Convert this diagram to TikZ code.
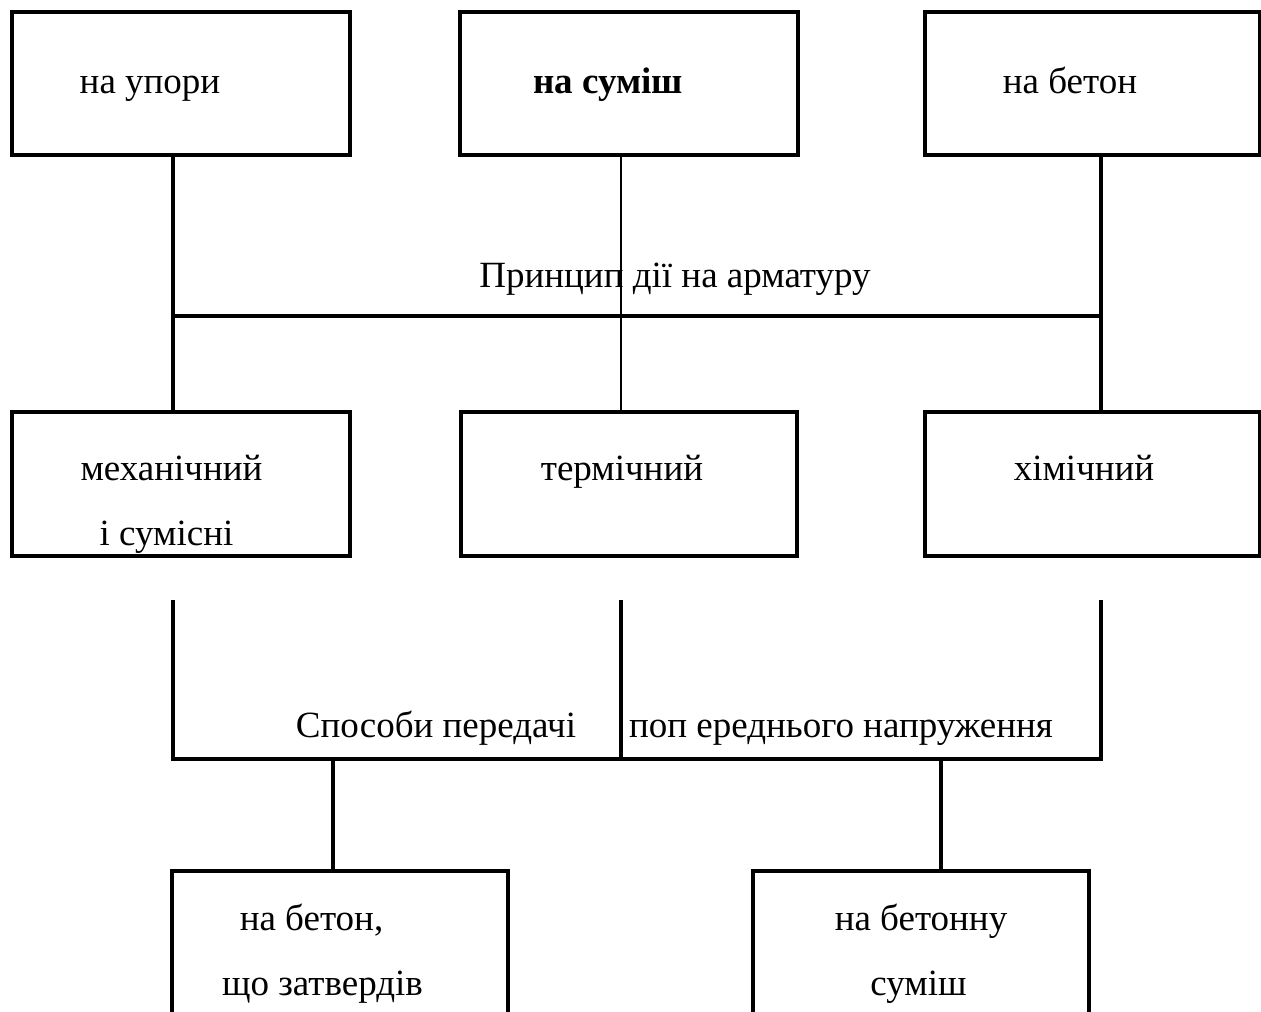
\documentclass[tikz,border=0pt]{standalone}
\usepackage{fontspec}
\setmainfont{Liberation Serif}
\begin{document}
\begin{tikzpicture}[x=1pt,y=-1pt,
  box/.style={draw,line width=3.5pt,rectangle,inner sep=0pt,outer sep=0pt},
  lbl/.style={anchor=base,inner sep=0pt,font=\fontsize{37}{44}\selectfont},
  thickline/.style={line width=3.5pt},
  thinline/.style={line width=1.8pt}]
\useasboundingbox (0,0) rectangle (1261,1012);
\clip (0,0) rectangle (1261,1012);
% boxes
\node[box,minimum width=338pt,minimum height=143pt] (t1) at (181,83.5) {};
\node[box,minimum width=338pt,minimum height=143pt] (t2) at (629,83.5) {};
\node[box,minimum width=335pt,minimum height=143pt] (t3) at (1092.5,83.5) {};
\node[box,minimum width=338pt,minimum height=144pt] (m1) at (181,484) {};
\node[box,minimum width=336pt,minimum height=144pt] (m2) at (629,484) {};
\node[box,minimum width=335pt,minimum height=144pt] (m3) at (1092.5,484) {};
\node[box,minimum width=336pt,minimum height=169pt] (d1) at (340,955.5) {};
\node[box,minimum width=336pt,minimum height=169pt] (d2) at (921,955.5) {};
% texts
\node[lbl] (x1) at (150,93) {на упори};
\node[lbl,font=\fontsize{37}{44}\selectfont\bfseries] (x2) at (608,93) {на суміш};
\node[lbl] (x3) at (1070,93) {на бетон};
\node[lbl] (x4) at (675,287) {Принцип дії на арматуру};
\node[lbl] (x5) at (171.5,480) {механічний};
\node[lbl] (x6) at (166.5,545) {і сумісні};
\node[lbl] (x7) at (622,480) {термічний};
\node[lbl] (x8) at (1084,480) {хімічний};
\node[lbl] (x9) at (436,737) {Способи передачі};
\node[lbl] (x10) at (841,737) {поп ереднього напруження};
\node[lbl] (x11) at (311.5,930) {на бетон,};
\node[lbl] (x12) at (322.5,995) {що затвердів};
\node[lbl] (x13) at (921,930) {на бетонну};
\node[lbl] (x14) at (918.5,995) {суміш};
% junction coordinates
\coordinate (jL) at (173,316);
\coordinate (jR) at (1101,316);
\coordinate (jM) at (621,316);
\coordinate (aL) at (173,600);
\coordinate (aM) at (621,600);
\coordinate (aR) at (1101,600);
\coordinate (hL) at (173,759);
\coordinate (hR) at (1101,759);
\coordinate (kL) at (333,759);
\coordinate (kR) at (941,759);
% upper connectors
\draw[thickline] (t1.south -| jL) -- (m1.north -| jL);
\draw[thickline] (jL) -- (jR);
\draw[thickline] (t3.south -| jR) -- (m3.north -| jR);
\draw[thinline] (t2.south -| jM) -- (m2.north -| jM);
% lower connectors
\draw[thickline] (aL) -- (hL) -- (hR) -- (aR);
\draw[thickline] (aM) -- (aM |- hL);
\draw[thickline] (kL) -- (d1.north -| kL);
\draw[thickline] (kR) -- (d2.north -| kR);
\end{tikzpicture}
\end{document}
